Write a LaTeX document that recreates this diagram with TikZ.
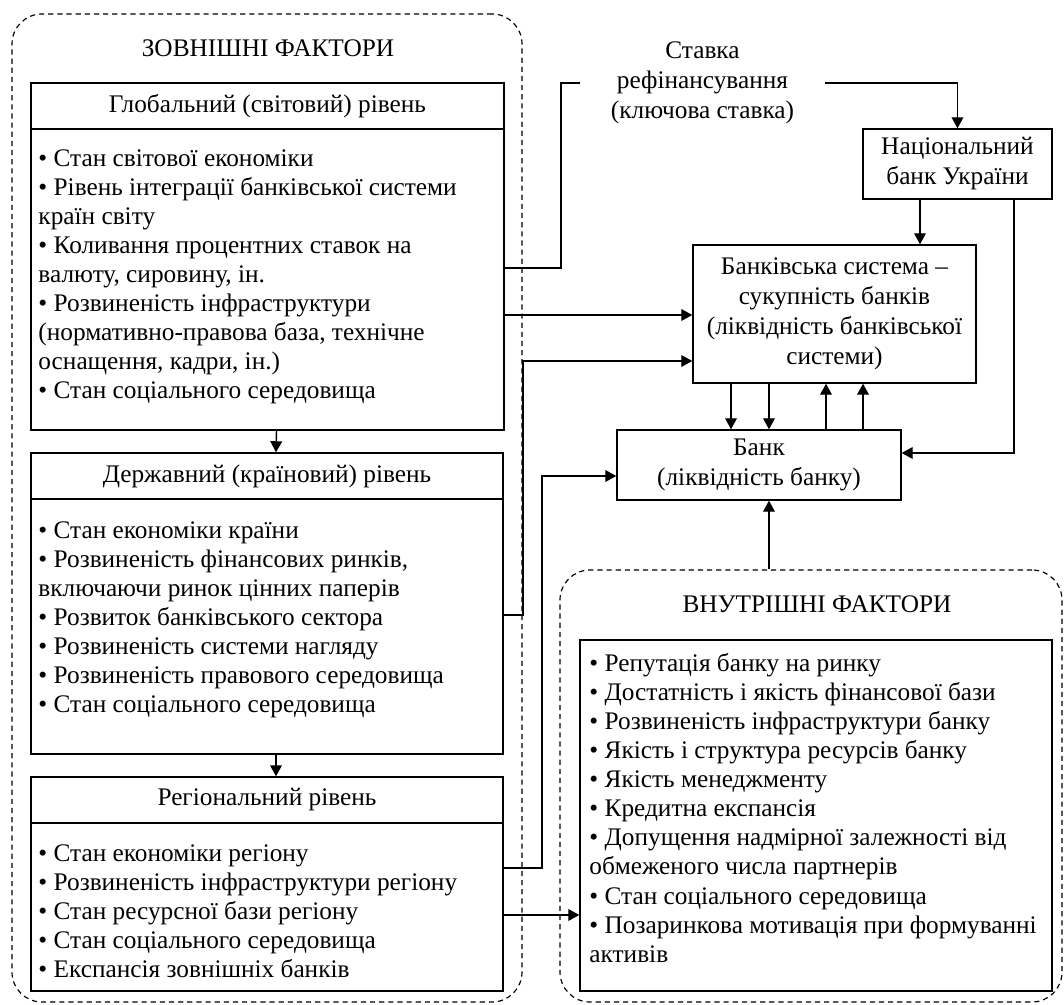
\documentclass[tikz,border=0pt]{standalone}
\usepackage{fontspec}
\setmainfont{Liberation Serif}
\usetikzlibrary{arrows.meta}

\tikzset{
  box/.style={draw, line width=0.6pt, inner sep=0pt, align=center,
    font=\fontsize{10.8}{12.8}\selectfont},
  group/.style={draw, line width=0.5pt, dash pattern=on 2.2pt off 1.7pt,
    rounded corners=0.45cm, inner sep=0pt},
  items/.style={anchor=north west, align=left, inner sep=0pt,
    font=\fontsize{10.8}{12.4}\selectfont},
  arr/.style={line width=0.6pt, -{Triangle[length=4.7pt,width=5pt]}},
  link/.style={line width=0.6pt}
}

\begin{document}
\begin{tikzpicture}[x=0.015cm,y=-0.015cm,font=\fontsize{10.8}{12.8}\selectfont]

  \useasboundingbox (0,0) rectangle (1064,1005);

  \coordinate (bendA) at (561,268);
  \coordinate (bendB) at (523,361);
  \coordinate (bendC) at (542,476);
  \coordinate (bendD) at (1014,453);
  \coordinate (globA) at (0,315);
  \coordinate (dershA) at (0,615);
  \coordinate (regA) at (0,868);
  \coordinate (regB) at (0,915);

  \node[group, minimum width=7.65cm, minimum height=14.82cm] (ext) at (267,508) {};
  \node[group, minimum width=7.53cm, minimum height=6.48cm] (int) at (811,786) {};
  \node (exttitle) at (268,48) {ЗОВНІШНІ ФАКТОРИ};
  \node (inttitle) at (817,604) {ВНУТРІШНІ ФАКТОРИ};

  \node[box, minimum width=7.095cm, minimum height=0.69cm] (globhead) at (267.5,106)
    {Глобальний (світовий) рівень};
  \node[box, minimum width=7.095cm, minimum height=4.515cm] (globbody) at (267.5,279.5) {};
  \node[items] (globtext) at (38,149) {%
    • Стан світової економіки\\
    • Рівень інтеграції банківської системи\\
    країн світу\\
    • Коливання процентних ставок на\\
    валюту, сировину, ін.\\
    • Розвиненість інфраструктури\\
    (нормативно-правова база, технічне\\
    оснащення, кадри, ін.)\\
    • Стан соціального середовища};

  \node[box, minimum width=7.08cm, minimum height=0.69cm] (dershhead) at (267,476)
    {Державний (країновий) рівень};
  \node[box, minimum width=7.08cm, minimum height=3.825cm] (dershbody) at (267,626.5) {};
  \node[items] (dershtext) at (38,521) {%
    • Стан економіки країни\\
    • Розвиненість фінансових ринків,\\
    включаючи ринок цінних паперів\\
    • Розвиток банківського сектора\\
    • Розвиненість системи нагляду\\
    • Розвиненість правового середовища\\
    • Стан соціального середовища};

  \node[box, minimum width=7.08cm, minimum height=0.69cm] (reghead) at (267,800)
    {Регіональний рівень};
  \node[box, minimum width=7.08cm, minimum height=2.52cm] (regbody) at (267,907) {};
  \node[items] (regtext) at (38,844) {%
    • Стан економіки регіону\\
    • Розвиненість інфраструктури регіону\\
    • Стан ресурсної бази регіону\\
    • Стан соціального середовища\\
    • Експансія зовнішніх банків};

  \node[box, minimum width=7.08cm, minimum height=5.265cm] (intbox) at (816,815.5) {};
  \node[items] (inttext) at (589,653) {%
    • Репутація банку на ринку\\
    • Достатність і якість фінансової бази\\
    • Розвиненість інфраструктури банку\\
    • Якість і структура ресурсів банку\\
    • Якість менеджменту\\
    • Кредитна експансія\\
    • Допущення надмірної залежності від\\
    обмеженого числа партнерів\\
    • Стан соціального середовища\\
    • Позаринкова мотивація при формуванні\\
    активів};

  \node[inner sep=0pt, minimum width=3.675cm, align=center] (stavka) at (702.5,83)
    {Ставка\\рефінансування\\(ключова ставка)};
  \node[box, minimum width=2.835cm, minimum height=1.05cm] (nbu) at (957.5,164)
    {Національний\\банк України};
  \node[box, minimum width=4.245cm, minimum height=2.07cm] (banksys) at (834.5,314)
    {Банківська система –\\сукупність банків\\(ліквідність банківської\\системи)};
  \node[box, minimum width=4.26cm, minimum height=1.05cm] (bank) at (759,465)
    {Банк\\(ліквідність банку)};

  \draw[arr] ([shift={(9,0)}]globbody.south) -- ([shift={(9,0)}]dershhead.north);
  \draw[arr] ([shift={(9,0)}]dershbody.south) -- ([shift={(9,0)}]reghead.north);

  \draw[link] (globbody.east |- bendA) -- (bendA) |- (stavka.west);
  \draw[arr] (stavka.east) -| (nbu.north);
  \draw[arr] (globbody.east |- globA) -- (banksys.west |- globA);
  \draw[arr] (dershbody.east |- dershA) -| (bendB) -- (banksys.west |- bendB);
  \draw[arr] (regbody.east |- regA) -| (bendC) -- (bank.west |- bendC);
  \draw[arr] (regbody.east |- regB) -- (intbox.west |- regB);

  \draw[arr] (nbu.south -| 920,0) -- (banksys.north -| 920,0);
  \draw[arr] (nbu.south -| bendD) -- (bendD) -- (bank.east |- bendD);

  \foreach \x in {731,769}
    \draw[arr] (banksys.south -| \x,0) -- (bank.north -| \x,0);
  \foreach \x in {826,863}
    \draw[arr] (bank.north -| \x,0) -- (banksys.south -| \x,0);

  \draw[arr] (int.north -| 769,0) -- (bank.south -| 769,0);

\end{tikzpicture}
\end{document}
